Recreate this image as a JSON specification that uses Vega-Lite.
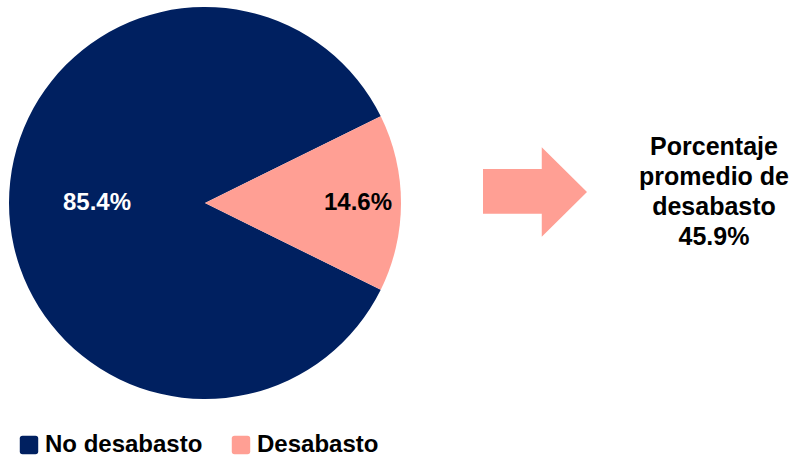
{
  "$schema": "https://vega.github.io/schema/vega-lite/v6.json",
  "padding": {"left": 5, "top": 5, "right": 0, "bottom": 0},
  "background": "white",
  "spacing": 0,
  "bounds": "flush",
  "config": {"view": {"stroke": null}, "font": "Liberation Sans"},
  "datasets": {
    "pie": [
      {"category": "No desabasto", "value": 0.854},
      {"category": "Desabasto", "value": 0.146}
    ],
    "arrow": [{"item": "flecha"}],
    "note": [{"label": "Porcentaje\npromedio de\ndesabasto\n45.9%"}]
  },
  "hconcat": [
    {
      "width": 400,
      "height": 396,
      "data": {"name": "pie"},
      "encoding": {
        "theta": {"field": "value", "type": "quantitative", "stack": true, "scale": {"range": [1.1121, 7.3953]}},
        "order": {"field": "value", "sort": "ascending"}
      },
      "layer": [
        {
          "mark": {"type": "arc", "outerRadius": 196},
          "encoding": {
            "color": {
              "field": "category", "type": "nominal",
              "scale": {"domain": ["No desabasto", "Desabasto"], "range": ["#002060", "#FF9F94"]},
              "legend": {
                "title": null, "orient": "none", "direction": "horizontal",
                "legendX": 12, "legendY": 428,
                "labelFontSize": 24, "labelFontWeight": "bold", "labelColor": "black",
                "labelFont": "Liberation Sans", "labelLimit": 300, "labelOffset": 4,
                "symbolSize": 340, "symbolStrokeWidth": 0, "symbolOpacity": 1,
                "symbolType": "M-0.7,-1 H0.7 Q1,-1 1,-0.7 V0.7 Q1,1 0.7,1 H-0.7 Q-1,1 -1,0.7 V-0.7 Q-1,-1 -0.7,-1 Z",
                "columnPadding": 26
              }
            }
          }
        },
        {
          "mark": {"type": "text", "radius": 153, "fontSize": 24, "fontWeight": "bold", "color": "black"},
          "encoding": {
            "text": {"field": "value", "type": "quantitative", "format": ".1%"},
            "opacity": {"condition": {"test": "datum.category === 'Desabasto'", "value": 1}, "value": 0}
          }
        },
        {
          "mark": {"type": "text", "radius": 108, "fontSize": 24, "fontWeight": "bold", "color": "white"},
          "encoding": {
            "text": {"field": "value", "type": "quantitative", "format": ".1%"},
            "opacity": {"condition": {"test": "datum.category === 'No desabasto'", "value": 1}, "value": 0}
          }
        }
      ]
    },
    {
      "width": 260,
      "height": 374,
      "data": {"name": "arrow"},
      "mark": {
        "type": "point", "filled": true, "opacity": 1, "strokeWidth": 0, "color": "#FF9F94",
        "size": 10816,
        "shape": "M-1,-0.44 L0.13,-0.44 L0.13,-0.86 L1,0 L0.13,0.86 L0.13,0.42 L-1,0.42 Z"
      },
      "encoding": {}
    },
    {
      "width": 98,
      "height": 284,
      "data": {"name": "note"},
      "mark": {"type": "text", "fontSize": 25, "fontWeight": "bold", "lineBreak": "\n", "lineHeight": 30, "align": "center", "baseline": "middle", "color": "black"},
      "encoding": {"text": {"field": "label", "type": "nominal"}}
    }
  ]
}
